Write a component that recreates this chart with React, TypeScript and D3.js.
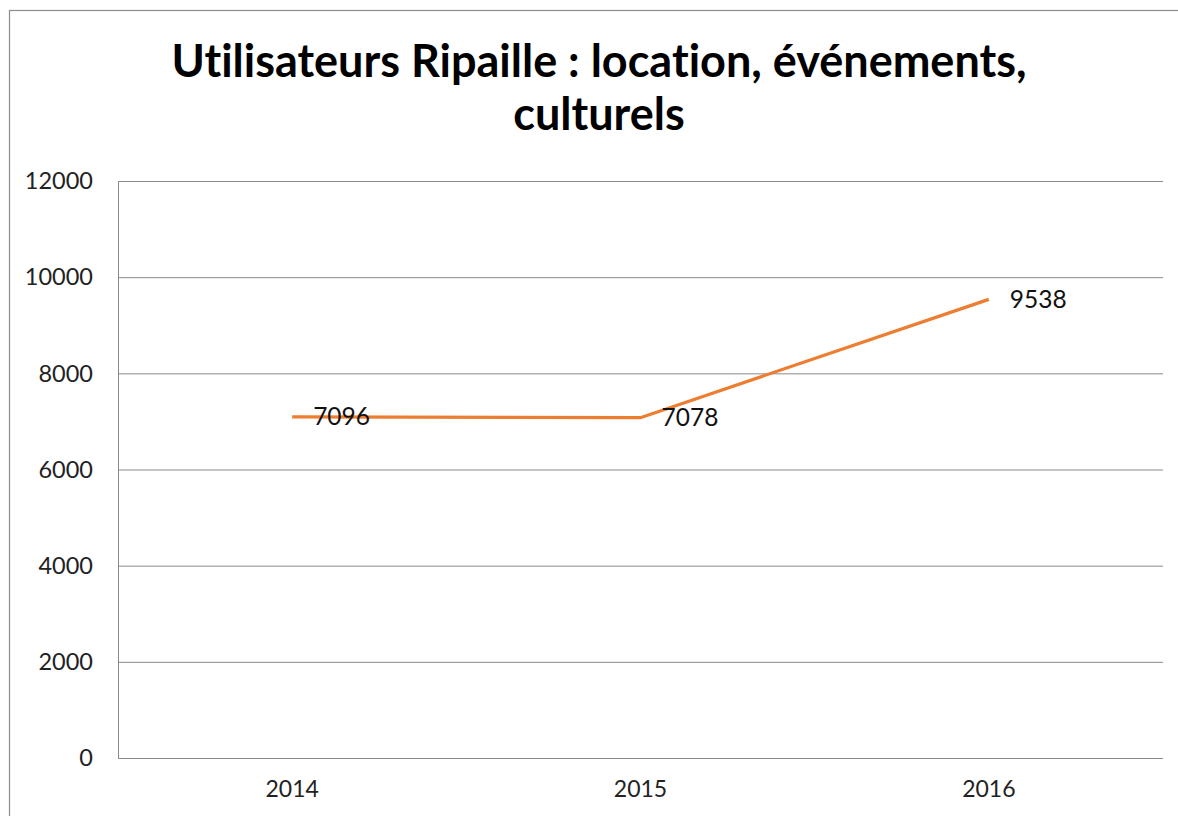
import React from 'react'
import * as d3 from 'd3'

const years = ['2014', '2015', '2016']
const users = [7096, 7078, 9538]
const yTicks = [0, 2000, 4000, 6000, 8000, 10000, 12000]
const titleLines = ['Utilisateurs Ripaille : location, événements,', 'culturels']

const W = 1178
const H = 816
const font = 'Lato, "Open Sans", sans-serif'

const App = () => {
  const left = 118
  const right = 1163
  const top = 181
  const bottom = 758

  // x scale
  const x = d3.scalePoint().domain(years).range([left, right]).padding(0.5)

  // y scale
  const y = d3.scaleLinear().domain([0, 12000]).range([bottom, top])

  const line = d3
    .line<number>()
    .x((d, i) => x(years[i]) as number)
    .y((d) => y(d))

  return (
    <svg
      width={W}
      height={H}
      style={{ position: 'absolute', left: 0, top: 0, background: 'white', fontVariantLigatures: 'none' }}
    >
      <rect x={9.5} y={10.5} width={W + 20} height={H + 20} fill="white" stroke="#8c8c8c" strokeWidth={1.2} />

      {titleLines.map((t, i) => (
        <text key={i} x={599} y={77 + i * 53} textAnchor="middle" fontFamily={font} fontWeight="bold" fontSize={45} fill="#000">
          {t}
        </text>
      ))}

      {/* grid lines */}
      {yTicks.map((t) => (
        <g key={t}>
          <line x1={left} x2={right} y1={y(t) + 0.5} y2={y(t) + 0.5} stroke="#8a8a8a" strokeWidth={1} />
          <text x={93} y={y(t)} dy="0.35em" textAnchor="end" fontFamily={font} fontSize={23.5} fill="#222">
            {t}
          </text>
        </g>
      ))}
      <line x1={left + 0.5} x2={left + 0.5} y1={top} y2={bottom} stroke="#8a8a8a" strokeWidth={1} />

      {/* x axis labels */}
      {years.map((yr) => (
        <text key={yr} x={x(yr)} y={797} textAnchor="middle" fontFamily={font} fontSize={23} fill="#222">
          {yr}
        </text>
      ))}

      {/* series */}
      <path d={line(users) || ''} fill="none" stroke="#ED7D31" strokeWidth={3.2} />

      {/* data labels */}
      {users.map((v, i) => (
        <text key={i} x={(x(years[i]) as number) + 21} y={y(v)} dy="0.35em" fontFamily={font} fontSize={24.5} fill="#111">
          {v}
        </text>
      ))}
    </svg>
  )
}

export default App
